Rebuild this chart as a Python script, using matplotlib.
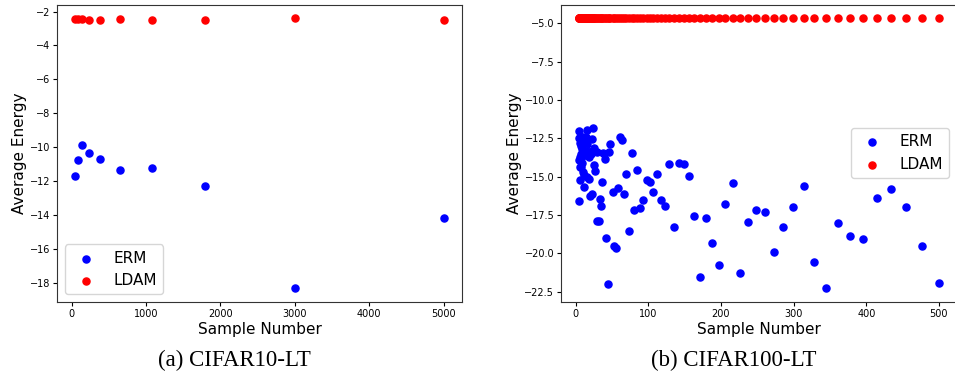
import matplotlib
matplotlib.use('Agg')
import matplotlib.pyplot as plt

# %% data: CIFAR10-LT (10 classes)
c10_samples = [5000, 2997, 1796, 1077, 645, 387, 232, 139, 83, 50]
c10_erm = [-14.21, -18.35, -12.27, -11.21, -11.36, -10.70, -10.34, -9.87, -10.74, -11.72]
c10_ldam = [-2.51, -2.41, -2.49, -2.51, -2.45, -2.49, -2.47, -2.45, -2.45, -2.43]

# %% data: CIFAR100-LT (100 classes)
c100_samples = [500, 477, 455, 434, 415, 396, 378, 361, 344, 328,
                314, 299, 286, 273, 260, 248, 237, 226, 216, 206,
                197, 188, 179, 171, 163, 156, 149, 142, 135, 129,
                123, 118, 112, 107, 102, 98, 93, 89, 85, 81,
                77, 74, 70, 67, 64, 61, 58, 56, 53, 51,
                48, 46, 44, 42, 40, 38, 36, 35, 33, 32,
                30, 29, 27, 26, 25, 24, 23, 22, 21, 20,
                19, 18, 17, 16, 15, 15, 14, 13, 13, 12,
                12, 11, 11, 10, 10, 9, 9, 8, 8, 7,
                7, 7, 6, 6, 6, 6, 5, 5, 5, 5]
c100_erm = [-21.93, -19.50, -17.00, -15.83, -16.37, -19.04, -18.87, -18.04, -22.30, -20.59,
            -15.63, -16.96, -18.28, -19.93, -17.33, -17.17, -17.98, -21.30, -15.43, -16.78,
            -20.74, -19.35, -17.72, -21.52, -17.54, -14.93, -14.20, -14.13, -18.30, -14.20,
            -16.91, -16.50, -14.83, -15.98, -15.33, -15.22, -16.54, -17.07, -14.59, -17.20,
            -13.43, -18.54, -14.85, -16.11, -12.63, -12.43, -15.72, -19.65, -19.54, -16.00,
            -12.89, -13.39, -21.98, -18.98, -13.85, -13.48, -15.35, -16.89, -16.43, -17.87,
            -17.92, -13.40, -14.61, -14.26, -13.11, -11.80, -12.52, -16.15, -13.55, -16.24,
            -15.15, -13.70, -13.30, -12.90, -11.96, -15.00, -12.40, -13.60, -12.70, -12.83,
            -13.48, -15.67, -14.90, -12.39, -14.67, -13.20, -14.10, -13.00, -13.80, -14.35,
            -13.50, -12.60, -12.78, -15.24, -13.70, -14.40, -12.00, -13.90, -16.59, -12.50]
c100_ldam = [-4.67, -4.67, -4.68, -4.67, -4.67, -4.66, -4.67, -4.67, -4.68, -4.67,
             -4.67, -4.67, -4.66, -4.67, -4.67, -4.68, -4.67, -4.67, -4.67, -4.66,
             -4.67, -4.67, -4.67, -4.68, -4.67, -4.67, -4.66, -4.67, -4.67, -4.67,
             -4.68, -4.67, -4.67, -4.67, -4.66, -4.67, -4.67, -4.68, -4.67, -4.67,
             -4.67, -4.66, -4.67, -4.67, -4.67, -4.68, -4.67, -4.67, -4.66, -4.67,
             -4.67, -4.67, -4.68, -4.67, -4.67, -4.66, -4.67, -4.67, -4.67, -4.68,
             -4.67, -4.67, -4.66, -4.67, -4.67, -4.67, -4.68, -4.67, -4.67, -4.66,
             -4.67, -4.67, -4.67, -4.68, -4.67, -4.67, -4.66, -4.67, -4.67, -4.67,
             -4.68, -4.67, -4.67, -4.66, -4.67, -4.67, -4.67, -4.68, -4.67, -4.67,
             -4.66, -4.67, -4.67, -4.67, -4.68, -4.67, -4.67, -4.66, -4.67, -4.67]

captions = ['(a) CIFAR10-LT', '(b) CIFAR100-LT']

# %% figure
fig = plt.figure(figsize=(9.55, 3.75), dpi=100)
ax1 = fig.add_axes([0.0597, 0.1947, 0.4241, 0.792])
ax2 = fig.add_axes([0.5877, 0.1947, 0.4143, 0.793])

panels = [
    (ax1, c10_samples, c10_erm, c10_ldam, 'lower left'),
    (ax2, c100_samples, c100_erm, c100_ldam, 'center right'),
]
for ax, xs, erm, ldam, loc in panels:
    ax.scatter(xs, erm, s=26, c='blue', label='ERM')
    ax.scatter(xs, ldam, s=26, c='red', label='LDAM')
    ax.set_xlabel('Sample Number', fontsize=11, labelpad=2)
    ax.set_ylabel('Average Energy', fontsize=11, labelpad=2)
    ax.tick_params(labelsize=7, length=3, pad=2)
    for sp in ax.spines.values():
        sp.set_edgecolor('#333333')
    ax.legend(loc=loc, fontsize=11)

# captions under each panel
fig.text(0.246, 0.038, captions[0], ha='center', va='center',
         family='Liberation Serif', fontsize=16.5)
fig.text(0.768, 0.038, captions[1], ha='center', va='center',
         family='Liberation Serif', fontsize=16.5)

fig.savefig('out.png', dpi=100)
